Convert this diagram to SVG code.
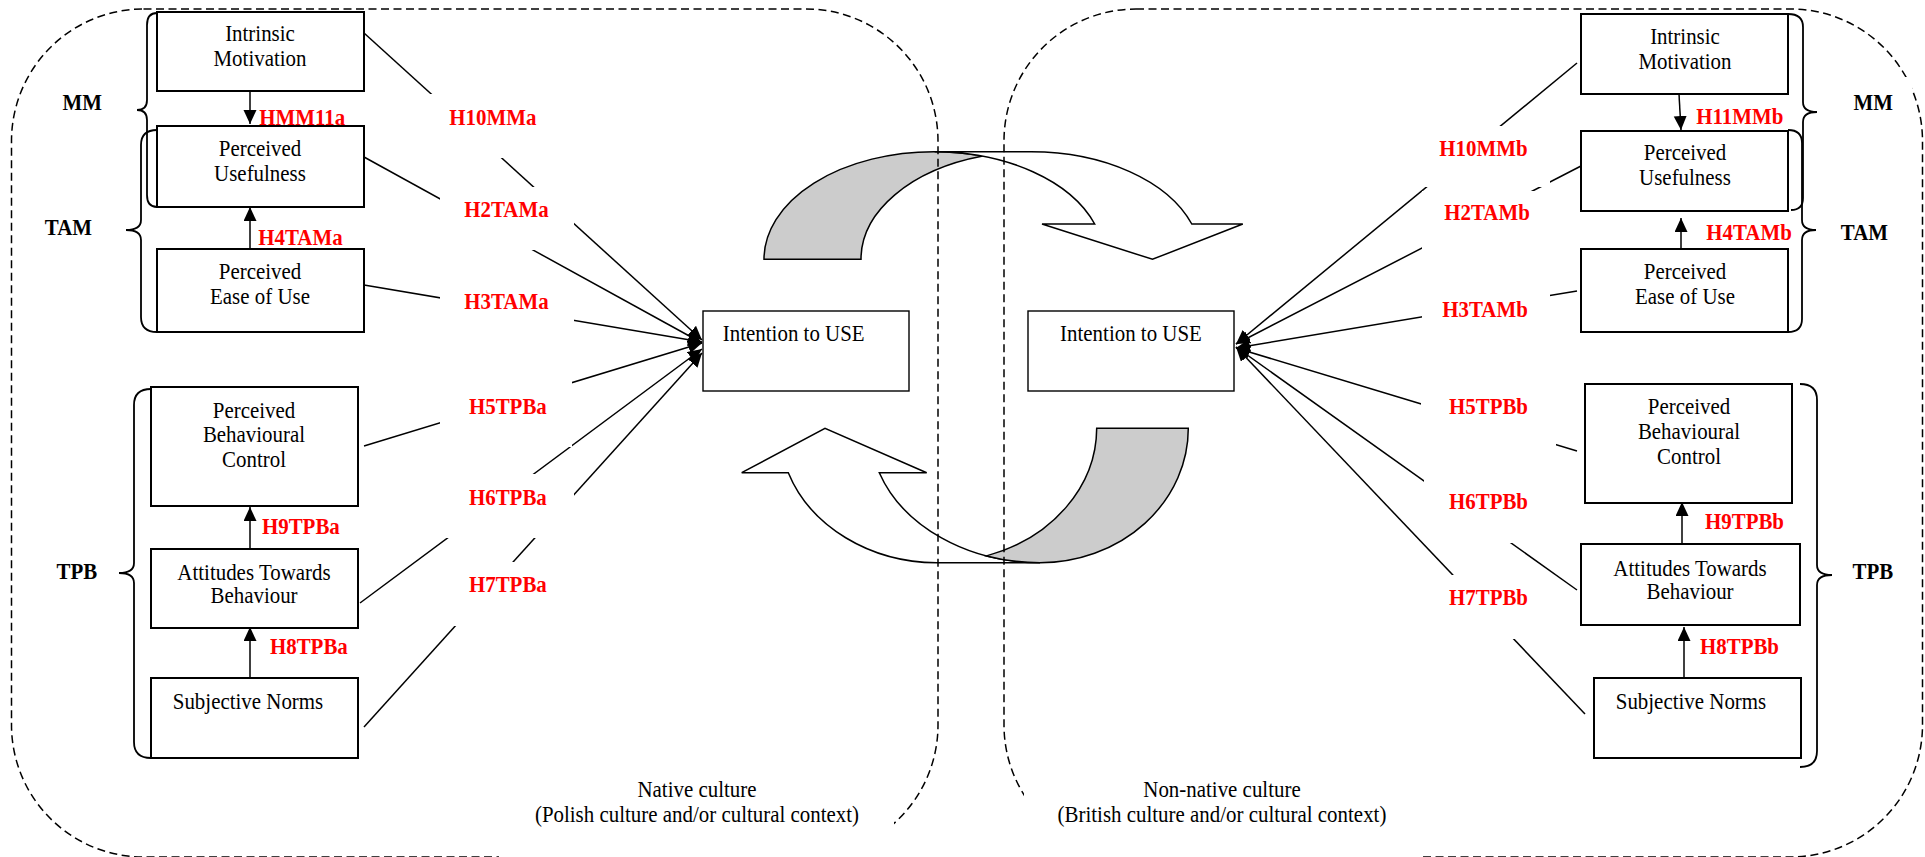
<svg xmlns="http://www.w3.org/2000/svg" width="1925" height="857" viewBox="0 0 1925 857">
  <defs>
    <style>
      .box { fill: #ffffff; stroke: #000000; stroke-width: 2; }
      .box-thin { fill: #ffffff; stroke: #000000; stroke-width: 1.4; }
      .txt, .hyp, .grp {
        font-family: "Liberation Serif", "Times New Roman", serif;
        font-size: 22.5px;
        transform-box: fill-box;
        transform-origin: center;
        transform: scaleX(0.93);
      }
      .txt { fill: #000000; }
      .mid { text-anchor: middle; }
      .hyp { font-weight: bold; fill: #ff0000; }
      .grp { font-weight: bold; fill: #000000; }
      .mask { fill: #ffffff; stroke: none; }
      .conn { fill: none; stroke: #000000; stroke-width: 1.5; }
      .region { fill: none; stroke: #000000; stroke-width: 1.5; stroke-dasharray: 8 4.5; }
      .brace { fill: none; stroke: #000000; stroke-width: 1.8; }
      .ribbon { stroke: #000000; stroke-width: 1.5; stroke-linejoin: miter; }
    </style>
    <marker id="ah" markerUnits="userSpaceOnUse" markerWidth="16" markerHeight="14" refX="14" refY="6.5" orient="auto">
      <path d="M0,0 L14,6.5 L0,13 Z" fill="#000000"/>
    </marker>
  </defs>

  <!-- curved transfer arrows between the two cultures -->
  <g id="culture-arrows">
    <path class="ribbon" fill="#cccccc" d="M764,259.3 A170,107.6 0 0,1 934.6,151.7 A170,107.6 0 0,1 982.8,156.1 A170,107.6 0 0,0 861,259.3 Z"/>
    <path class="ribbon" fill="#ffffff" d="M934.6,151.7 L1031,151.7 A170,107.6 0 0,1 1191.8,224 L1242.8,224 L1152.5,259.3 L1042,224 L1094.7,224 A170,107.6 0 0,0 934.6,151.7 Z"/>
    <path class="ribbon" fill="#ffffff" d="M936.7,562.7 L1040,562.7 A170,134.4 0 0,1 879.3,472.7 L926.7,472.7 L825,428.3 L741.7,472.7 L788.3,472.7 A158,134.4 0 0,0 936.7,562.7 Z"/>
    <path class="ribbon" fill="#cccccc" d="M1096.7,428.3 L1188.3,428.3 A148.3,134.4 0 0,1 1040,562.7 A170,134.4 0 0,1 986.5,555.9 A158,134.4 0 0,0 1096.7,428.3 Z"/>
  </g>

  <!-- dashed culture regions -->
  <g id="regions">
    <rect class="region" x="11.5" y="9" width="926.5" height="848" rx="132" ry="132"/>
    <rect class="region" x="1004" y="9" width="918.5" height="848" rx="132" ry="132"/>
  </g>

  <g id="native-culture">
    <rect class="mask" x="499" y="765" width="395" height="92"/>
    <text class="txt mid" x="697" y="797">Native culture</text>
    <text class="txt mid" x="697" y="822">(Polish culture and/or cultural context)</text>
  </g>
  <g id="non-native-culture">
    <rect class="mask" x="1024" y="765" width="396" height="92"/>
    <text class="txt mid" x="1222" y="797">Non-native culture</text>
    <text class="txt mid" x="1222" y="822">(British culture and/or cultural context)</text>
  </g>

  <!-- hypothesis paths -->
  <g id="connectors">
    <path class="conn" marker-end="url(#ah)" d="M364,33 L702,340"/>
    <path class="conn" marker-end="url(#ah)" d="M364,157 L702,343"/>
    <path class="conn" marker-end="url(#ah)" d="M364,285 L702,342"/>
    <path class="conn" marker-end="url(#ah)" d="M364,446 L702,343"/>
    <path class="conn" marker-end="url(#ah)" d="M360,603 L702,349"/>
    <path class="conn" marker-end="url(#ah)" d="M364,727 L702,353"/>
    <path class="conn" marker-end="url(#ah)" d="M1577,63 L1236,344"/>
    <path class="conn" marker-end="url(#ah)" d="M1581,166 L1236,344"/>
    <path class="conn" marker-end="url(#ah)" d="M1577,291 L1236,348"/>
    <path class="conn" marker-end="url(#ah)" d="M1577,451 L1236,348"/>
    <path class="conn" marker-end="url(#ah)" d="M1577,590 L1236,347"/>
    <path class="conn" marker-end="url(#ah)" d="M1585,714 L1236,347"/>
    <path class="conn" marker-end="url(#ah)" d="M250,91 L250,124"/>
    <path class="conn" marker-end="url(#ah)" d="M250,249 L250,207"/>
    <path class="conn" marker-end="url(#ah)" d="M250,549 L250,507"/>
    <path class="conn" marker-end="url(#ah)" d="M250,678 L250,627"/>
    <path class="conn" marker-end="url(#ah)" d="M1679,94 L1681,130"/>
    <path class="conn" marker-end="url(#ah)" d="M1681,249 L1681,218"/>
    <path class="conn" marker-end="url(#ah)" d="M1682,544 L1682,502"/>
    <path class="conn" marker-end="url(#ah)" d="M1684,678 L1684,627"/>
  </g>

  <!-- hypothesis labels -->
  <g id="labels-native">
    <rect class="mask" x="428" y="94" width="146" height="64"/>
    <text class="hyp" x="446" y="125">H10MMa</text>
    <rect class="mask" x="440" y="187" width="134" height="63"/>
    <text class="hyp" x="461" y="217">H2TAMa</text>
    <rect class="mask" x="440" y="279" width="134" height="61"/>
    <text class="hyp" x="461" y="309">H3TAMa</text>
    <rect class="mask" x="440" y="381" width="132" height="66"/>
    <text class="hyp" x="466" y="414">H5TPBa</text>
    <rect class="mask" x="440" y="474" width="134" height="64"/>
    <text class="hyp" x="466" y="505">H6TPBa</text>
    <rect class="mask" x="440" y="562" width="134" height="64"/>
    <text class="hyp" x="466" y="592">H7TPBa</text>
    <text class="hyp" x="256" y="125">HMM11a</text>
    <text class="hyp" x="255" y="245">H4TAMa</text>
    <text class="hyp" x="259" y="534">H9TPBa</text>
    <text class="hyp" x="267" y="654">H8TPBa</text>
  </g>
  <g id="labels-non-native">
    <rect class="mask" x="1422" y="126" width="128" height="61"/>
    <text class="hyp" x="1436" y="156">H10MMb</text>
    <rect class="mask" x="1422" y="191" width="128" height="63"/>
    <text class="hyp" x="1441" y="220">H2TAMb</text>
    <rect class="mask" x="1422" y="287" width="128" height="58"/>
    <text class="hyp" x="1439" y="317">H3TAMb</text>
    <rect class="mask" x="1421" y="384" width="135" height="64"/>
    <text class="hyp" x="1446" y="414">H5TPBb</text>
    <rect class="mask" x="1424" y="479" width="126" height="64"/>
    <text class="hyp" x="1446" y="509">H6TPBb</text>
    <rect class="mask" x="1421" y="575" width="129" height="64"/>
    <text class="hyp" x="1446" y="605">H7TPBb</text>
    <text class="hyp" x="1693" y="124">H11MMb</text>
    <text class="hyp" x="1703" y="240">H4TAMb</text>
    <text class="hyp" x="1702" y="529">H9TPBb</text>
    <text class="hyp" x="1697" y="654">H8TPBb</text>
  </g>

  <!-- native culture constructs -->
  <g id="im-a">
    <rect class="box" x="157" y="12" width="207" height="79"/>
    <text class="txt mid" x="260" y="41">Intrinsic</text>
    <text class="txt mid" x="260" y="66">Motivation</text>
  </g>
  <g id="pu-a">
    <rect class="box" x="157" y="126" width="207" height="81"/>
    <text class="txt mid" x="260" y="156">Perceived</text>
    <text class="txt mid" x="260" y="181">Usefulness</text>
  </g>
  <g id="peou-a">
    <rect class="box" x="157" y="249" width="207" height="83"/>
    <text class="txt mid" x="260" y="279">Perceived</text>
    <text class="txt mid" x="260" y="304">Ease of Use</text>
  </g>
  <g id="pbc-a">
    <rect class="box" x="151" y="387" width="207" height="119"/>
    <text class="txt mid" x="254" y="418">Perceived</text>
    <text class="txt mid" x="254" y="442">Behavioural</text>
    <text class="txt mid" x="254" y="467">Control</text>
  </g>
  <g id="atb-a">
    <rect class="box" x="151" y="549" width="207" height="79"/>
    <text class="txt mid" x="254" y="580">Attitudes Towards</text>
    <text class="txt mid" x="254" y="603">Behaviour</text>
  </g>
  <g id="sn-a">
    <rect class="box" x="151" y="678" width="207" height="80"/>
    <text class="txt mid" x="248" y="709">Subjective Norms</text>
  </g>
  <g id="itu-a">
    <rect class="box-thin" x="703" y="311" width="206" height="80"/>
    <text class="txt" x="717.5" y="341">Intention to USE</text>
  </g>

  <!-- non-native culture constructs -->
  <g id="itu-b">
    <rect class="box-thin" x="1028" y="311" width="206" height="80"/>
    <text class="txt mid" x="1131" y="341">Intention to USE</text>
  </g>
  <g id="im-b">
    <rect class="box" x="1581" y="14" width="207" height="80"/>
    <text class="txt mid" x="1685" y="44">Intrinsic</text>
    <text class="txt mid" x="1685" y="69">Motivation</text>
  </g>
  <g id="pu-b">
    <rect class="box" x="1581" y="131" width="207" height="80"/>
    <text class="txt mid" x="1685" y="160">Perceived</text>
    <text class="txt mid" x="1685" y="185">Usefulness</text>
  </g>
  <g id="peou-b">
    <rect class="box" x="1581" y="249" width="207" height="83"/>
    <text class="txt mid" x="1685" y="279">Perceived</text>
    <text class="txt mid" x="1685" y="304">Ease of Use</text>
  </g>
  <g id="pbc-b">
    <rect class="box" x="1585" y="384" width="207" height="119"/>
    <text class="txt mid" x="1689" y="414">Perceived</text>
    <text class="txt mid" x="1689" y="439">Behavioural</text>
    <text class="txt mid" x="1689" y="464">Control</text>
  </g>
  <g id="atb-b">
    <rect class="box" x="1581" y="544" width="219" height="81"/>
    <text class="txt mid" x="1690" y="576">Attitudes Towards</text>
    <text class="txt mid" x="1690" y="599">Behaviour</text>
  </g>
  <g id="sn-b">
    <rect class="box" x="1594" y="678" width="207" height="80"/>
    <text class="txt mid" x="1691" y="709">Subjective Norms</text>
  </g>

  <!-- model groupings -->
  <g id="groups-native">
    <path class="brace" d="M157,13 Q147,13 147,25 L147,100 Q147,110 137,110 Q147,110 147,120 L147,195 Q147,207 157,207"/>
    <path class="brace" d="M157,130 Q141,130 141,145 L141,220 Q141,230 126,230 Q141,230 141,240 L141,317 Q141,332 157,332"/>
    <path class="brace" d="M151,389 Q134,389 134,405 L134,563 Q134,573 119,573 Q134,573 134,583 L134,742 Q134,758 151,758"/>
    <text class="grp" x="61" y="110">MM</text>
    <text class="grp" x="43" y="235">TAM</text>
    <text class="grp" x="55" y="579">TPB</text>
  </g>
  <g id="groups-non-native">
    <path class="brace" d="M1788,14 Q1803,14 1803,27 L1803,102 Q1803,112 1817,112 Q1803,112 1803,122 L1803,198 Q1803,210 1791,210"/>
    <path class="brace" d="M1788,130 Q1802,130 1802,143 L1802,220 Q1802,230 1816,230 Q1802,230 1802,240 L1802,319 Q1802,332 1788,332"/>
    <path class="brace" d="M1800,384 Q1817,384 1817,400 L1817,565 Q1817,575 1832,575 Q1817,575 1817,585 L1817,751 Q1817,767 1800,767"/>
    <rect class="mask" x="1840" y="77" width="72" height="58"/>
    <text class="grp" x="1852" y="110">MM</text>
    <text class="grp" x="1839" y="240">TAM</text>
    <text class="grp" x="1851" y="579">TPB</text>
  </g>
</svg>
